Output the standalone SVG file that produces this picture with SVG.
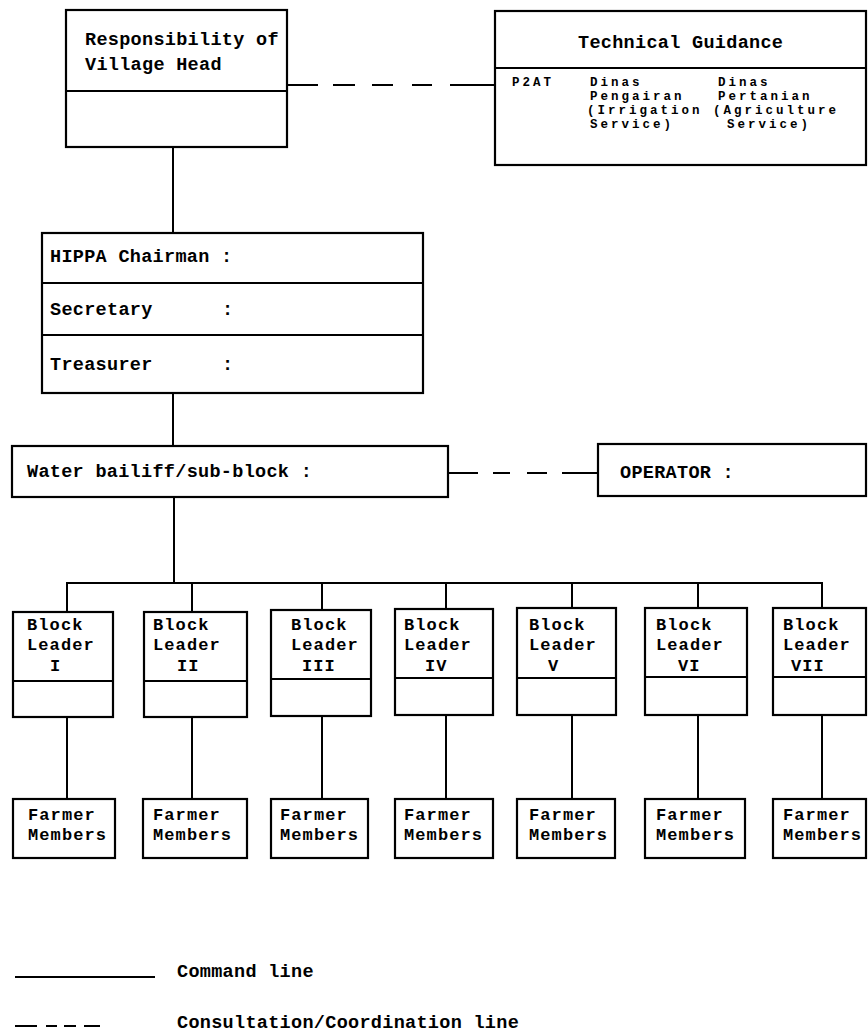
<svg xmlns="http://www.w3.org/2000/svg" width="868" height="1036" viewBox="0 0 868 1036">
<style>
.box{fill:#fff;stroke:#000;stroke-width:2.2}
.div{stroke:#000;stroke-width:1.8}
.ln{stroke:#000;stroke-width:2;fill:none}
text{font-family:"Liberation Mono","Courier New",monospace;font-size:18.5px;letter-spacing:0.3px;font-weight:bold;fill:#000}
.sm{font-size:12.5px;letter-spacing:3px}
.bx{font-size:17px;letter-spacing:1.1px}
</style>
<rect width="868" height="1036" fill="#fff"/>
<g id="connectors">
<line class="ln" x1="173" y1="147" x2="173" y2="233"/>
<line class="ln" x1="173" y1="393" x2="173" y2="446"/>
<line class="ln" x1="174" y1="497" x2="174" y2="583"/>
<line class="ln" x1="66" y1="583" x2="823" y2="583"/>
<line class="ln" x1="67" y1="583" x2="67" y2="612"/>
<line class="ln" x1="192" y1="583" x2="192" y2="612"/>
<line class="ln" x1="322" y1="583" x2="322" y2="610"/>
<line class="ln" x1="446" y1="583" x2="446" y2="609"/>
<line class="ln" x1="572" y1="583" x2="572" y2="608"/>
<line class="ln" x1="698" y1="583" x2="698" y2="608"/>
<line class="ln" x1="822" y1="583" x2="822" y2="608"/>
<line class="ln" x1="67" y1="717" x2="67" y2="799"/>
<line class="ln" x1="192" y1="717" x2="192" y2="799"/>
<line class="ln" x1="322" y1="716" x2="322" y2="799"/>
<line class="ln" x1="446" y1="715" x2="446" y2="799"/>
<line class="ln" x1="572" y1="715" x2="572" y2="799"/>
<line class="ln" x1="698" y1="715" x2="698" y2="799"/>
<line class="ln" x1="822" y1="715" x2="822" y2="799"/>
<path class="ln" d="M287 85H318M333 85H355M372 85H393M412 85H432M450 85H495"/>
<path class="ln" d="M448 473H478M493 473H510M527 473H547M562 473H598"/>
</g>
<g id="village-head">
<rect class="box" x="66" y="10" width="221" height="137"/>
<line class="div" x1="66" y1="91" x2="287" y2="91"/>
<text x="85" y="45">Responsibility of</text>
<text x="85" y="70">Village Head</text>
</g>
<g id="technical-guidance">
<rect class="box" x="495" y="11" width="371" height="154"/>
<line class="div" x1="495" y1="68" x2="866" y2="68"/>
<text x="578" y="48">Technical Guidance</text>
<text class="sm" x="512" y="86">P2AT</text>
<text class="sm" x="590" y="86">Dinas</text>
<text class="sm" x="590" y="100">Pengairan</text>
<text class="sm" x="587" y="114">(Irrigation</text>
<text class="sm" x="590" y="128">Service)</text>
<text class="sm" x="718" y="86">Dinas</text>
<text class="sm" x="718" y="100">Pertanian</text>
<text class="sm" x="713" y="114">(Agriculture</text>
<text class="sm" x="727" y="128">Service)</text>
</g>
<g id="hippa">
<rect class="box" x="42" y="233" width="381" height="160"/>
<line class="div" x1="42" y1="283" x2="423" y2="283"/>
<line class="div" x1="42" y1="335" x2="423" y2="335"/>
<text x="50" y="262">HIPPA Chairman :</text>
<text x="50" y="315">Secretary</text>
<text x="222" y="315">:</text>
<text x="50" y="370">Treasurer</text>
<text x="222" y="370">:</text>
</g>
<g id="water-bailiff">
<rect class="box" x="12" y="446" width="436" height="51"/>
<text x="27" y="477">Water bailiff/sub-block :</text>
</g>
<g id="operator">
<rect class="box" x="598" y="444" width="268" height="52"/>
<text x="620" y="478">OPERATOR :</text>
</g>
<g id="block-leader-1">
<rect class="box" x="13" y="612" width="100" height="105"/>
<line class="div" x1="13" y1="681" x2="113" y2="681"/>
<text class="bx" x="27" y="630">Block</text><text class="bx" x="27" y="650">Leader</text><text class="bx" x="50" y="671">I</text>
</g>
<g id="block-leader-2">
<rect class="box" x="144" y="612" width="103" height="105"/>
<line class="div" x1="144" y1="681" x2="247" y2="681"/>
<text class="bx" x="153" y="630">Block</text><text class="bx" x="153" y="650">Leader</text><text class="bx" x="177" y="671">II</text>
</g>
<g id="block-leader-3">
<rect class="box" x="271" y="610" width="100" height="106"/>
<line class="div" x1="271" y1="679" x2="371" y2="679"/>
<text class="bx" x="291" y="630">Block</text><text class="bx" x="291" y="650">Leader</text><text class="bx" x="302" y="671">III</text>
</g>
<g id="block-leader-4">
<rect class="box" x="395" y="609" width="98" height="106"/>
<line class="div" x1="395" y1="678" x2="493" y2="678"/>
<text class="bx" x="404" y="630">Block</text><text class="bx" x="404" y="650">Leader</text><text class="bx" x="425" y="671">IV</text>
</g>
<g id="block-leader-5">
<rect class="box" x="517" y="608" width="99" height="107"/>
<line class="div" x1="517" y1="678" x2="616" y2="678"/>
<text class="bx" x="529" y="630">Block</text><text class="bx" x="529" y="650">Leader</text><text class="bx" x="548" y="671">V</text>
</g>
<g id="block-leader-6">
<rect class="box" x="645" y="608" width="102" height="107"/>
<line class="div" x1="645" y1="677" x2="747" y2="677"/>
<text class="bx" x="656" y="630">Block</text><text class="bx" x="656" y="650">Leader</text><text class="bx" x="678" y="671">VI</text>
</g>
<g id="block-leader-7">
<rect class="box" x="773" y="608" width="93" height="107"/>
<line class="div" x1="773" y1="677" x2="866" y2="677"/>
<text class="bx" x="783" y="630">Block</text><text class="bx" x="783" y="650">Leader</text><text class="bx" x="791" y="671">VII</text>
</g>
<g id="farmer-members-1">
<rect class="box" x="13" y="799" width="102" height="59"/>
<text class="bx" x="28" y="820">Farmer</text><text class="bx" x="28" y="840">Members</text>
</g>
<g id="farmer-members-2">
<rect class="box" x="143" y="799" width="104" height="59"/>
<text class="bx" x="153" y="820">Farmer</text><text class="bx" x="153" y="840">Members</text>
</g>
<g id="farmer-members-3">
<rect class="box" x="271" y="799" width="97" height="59"/>
<text class="bx" x="280" y="820">Farmer</text><text class="bx" x="280" y="840">Members</text>
</g>
<g id="farmer-members-4">
<rect class="box" x="395" y="799" width="98" height="59"/>
<text class="bx" x="404" y="820">Farmer</text><text class="bx" x="404" y="840">Members</text>
</g>
<g id="farmer-members-5">
<rect class="box" x="517" y="799" width="98" height="59"/>
<text class="bx" x="529" y="820">Farmer</text><text class="bx" x="529" y="840">Members</text>
</g>
<g id="farmer-members-6">
<rect class="box" x="645" y="799" width="100" height="59"/>
<text class="bx" x="656" y="820">Farmer</text><text class="bx" x="656" y="840">Members</text>
</g>
<g id="farmer-members-7">
<rect class="box" x="773" y="799" width="93" height="59"/>
<text class="bx" x="783" y="820">Farmer</text><text class="bx" x="783" y="840">Members</text>
</g>
<g id="legend">
<line class="ln" x1="15" y1="977" x2="155" y2="977"/>
<text x="177" y="977">Command line</text>
<path class="ln" d="M15 1026H37M46 1026H57M64 1026H76M84 1026H100"/>
<text x="177" y="1028">Consultation/Coordination line</text>
</g>
</svg>
